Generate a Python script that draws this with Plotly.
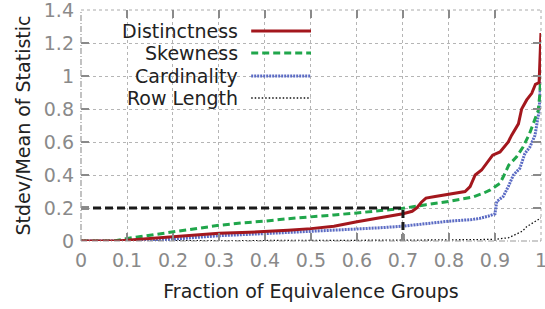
import plotly.graph_objects as go

# ---- data ----
dist_x = [0, 0.08, 0.1, 0.15, 0.2, 0.25, 0.3, 0.35, 0.4, 0.45, 0.5, 0.55, 0.6, 0.65, 0.7,
          0.72, 0.73, 0.74, 0.75, 0.77, 0.8, 0.835, 0.846, 0.857, 0.871, 0.882, 0.895,
          0.911, 0.929, 0.936, 0.951, 0.958, 0.969, 0.98, 0.988, 0.996, 0.998, 1.0]
dist_y = [0, 0, 0.005, 0.015, 0.026, 0.037, 0.047, 0.051, 0.056, 0.065, 0.075, 0.09, 0.117,
          0.14, 0.165, 0.18, 0.2, 0.235, 0.26, 0.27, 0.285, 0.30, 0.33, 0.40, 0.43, 0.47, 0.52,
          0.54, 0.60, 0.64, 0.71, 0.80, 0.855, 0.895, 0.95, 0.96, 1.2, 1.26]

skew_x = [0, 0.07, 0.09, 0.1, 0.15, 0.2, 0.25, 0.3, 0.35, 0.4, 0.45, 0.5, 0.55, 0.6, 0.65,
          0.7, 0.75, 0.8, 0.85, 0.875, 0.89, 0.911, 0.92, 0.93, 0.947, 0.961, 0.975, 0.983,
          0.994, 0.998, 1.0]
skew_y = [0, 0, 0.01, 0.015, 0.035, 0.055, 0.075, 0.095, 0.11, 0.12, 0.135, 0.145, 0.158,
          0.17, 0.185, 0.198, 0.22, 0.24, 0.265, 0.29, 0.31, 0.35, 0.40, 0.46, 0.51, 0.57,
          0.65, 0.71, 0.79, 0.9, 1.07]

card_x = [0, 0.15, 0.17, 0.2, 0.25, 0.3, 0.4, 0.5, 0.6, 0.65, 0.7, 0.75, 0.8, 0.85, 0.867,
          0.885, 0.895, 0.9, 0.904, 0.918, 0.929, 0.94, 0.954, 0.965, 0.976, 0.987, 0.996, 1.0]
card_y = [0, 0, 0.005, 0.012, 0.022, 0.032, 0.045, 0.057, 0.073, 0.08, 0.09, 0.105, 0.12,
          0.13, 0.137, 0.15, 0.16, 0.165, 0.24, 0.27, 0.33, 0.40, 0.44, 0.53, 0.57, 0.64,
          0.79, 1.01]

row_x = [0, 0.5, 0.7, 0.85, 0.9, 0.93, 0.947, 0.96, 0.969, 0.985, 1.0]
row_y = [0, 0.002, 0.005, 0.008, 0.01, 0.02, 0.04, 0.06, 0.087, 0.115, 0.14]

ref_x = 0.7   # marked fraction
ref_y = 0.2   # marked threshold

series_names = ["Distinctness", "Skewness", "Cardinality", "Row Length"]
x_ticks = [0, 0.1, 0.2, 0.3, 0.4, 0.5, 0.6, 0.7, 0.8, 0.9, 1]
x_tick_text = ["0", "0.1", "0.2", "0.3", "0.4", "0.5", "0.6", "0.7", "0.8", "0.9", "1"]
y_ticks = [0, 0.2, 0.4, 0.6, 0.8, 1.0, 1.2, 1.4]
y_tick_text = ["0", "0.2", "0.4", "0.6", "0.8", "1", "1.2", "1.4"]

# ---- styles ----
styles = [
    dict(color="#A3171D", width=3, dash="solid"),
    dict(color="#20A64B", width=3, dash="7px,4px"),
    dict(color="#5B6BC4", width=3, dash="2px,1px"),
    dict(color="#111111", width=1.3, dash="1.5px,2px"),
]
FONT = "DejaVu Sans"
FS = 19

fig = go.Figure()

data = [(row_x, row_y), (card_x, card_y), (skew_x, skew_y), (dist_x, dist_y)]
order = [3, 2, 1, 0]
for i, (xs, ys) in zip(order, data):
    fig.add_trace(go.Scatter(x=xs, y=ys, mode="lines", name=series_names[i],
                             line=styles[i], showlegend=False, cliponaxis=False))

# reference dashed lines
fig.add_trace(go.Scatter(x=[0, ref_x, ref_x], y=[ref_y, ref_y, 0], mode="lines",
                         line=dict(color="#1a1a1a", width=3, dash="8px,4px"),
                         showlegend=False, hoverinfo="skip"))

# custom gnuplot-style legend (text right, sample on right)
leg_y = [0.909, 0.814, 0.714, 0.619]
for i, name in enumerate(series_names):
    fig.add_annotation(x=0.346, y=leg_y[i], xref="paper", yref="paper", text=name,
                       showarrow=False, xanchor="right", yanchor="middle",
                       font=dict(family=FONT, size=FS, color="#222222"))
    fig.add_shape(type="line", xref="paper", yref="paper", x0=0.37, x1=0.5,
                  y0=leg_y[i], y1=leg_y[i], line=styles[i])

# borders
fig.add_shape(type="line", xref="paper", yref="paper", x0=0, x1=0, y0=0, y1=1,
              line=dict(color="#999999", width=1.2, dash="6px,2px,1px,2px"), layer="above")
fig.add_shape(type="line", xref="paper", yref="paper", x0=0, x1=1, y0=0, y1=0,
              line=dict(color="#999999", width=1.2, dash="6px,2px,1px,2px"), layer="above")
fig.add_shape(type="line", xref="paper", yref="paper", x0=0, x1=1, y0=1, y1=1,
              line=dict(color="#aaaaaa", width=1, dash="dot"), layer="below")
fig.add_shape(type="line", xref="paper", yref="paper", x0=1, x1=1, y0=0, y1=1,
              line=dict(color="#aaaaaa", width=1, dash="dot"), layer="below")

axis_common = dict(
    showgrid=True, gridcolor="#b5b5b5", griddash="dot", gridwidth=1,
    zeroline=False, showline=False, ticks="inside", ticklen=8, tickwidth=1.5,
    tickcolor="#8a8a8a", mirror="allticks", automargin=False,
    ticklabeloverflow="allow",
    tickfont=dict(family=FONT, size=FS, color="#8a8a8a"),
)

fig.update_xaxes(range=[0, 1.0001], tickvals=x_ticks, ticktext=x_tick_text,
                 title=dict(text="Fraction of Equivalence Groups",
                            font=dict(family=FONT, size=FS, color="#222222"), standoff=14),
                 ticklabelstandoff=6, **axis_common)
fig.update_yaxes(range=[0, 1.4001], tickvals=y_ticks, ticktext=y_tick_text,
                 title=dict(text="Stdev/Mean of Statistic",
                            font=dict(family=FONT, size=FS, color="#222222"), standoff=8),
                 ticklabelstandoff=6, **axis_common)

fig.update_layout(
    width=545, height=309,
    margin=dict(l=81, r=4, t=10, b=68),
    plot_bgcolor="white", paper_bgcolor="white",
    font=dict(family=FONT),
)

fig.write_html("out.html", config={"displayModeBar": False},
               post_script="document.body.style.margin='0';")
